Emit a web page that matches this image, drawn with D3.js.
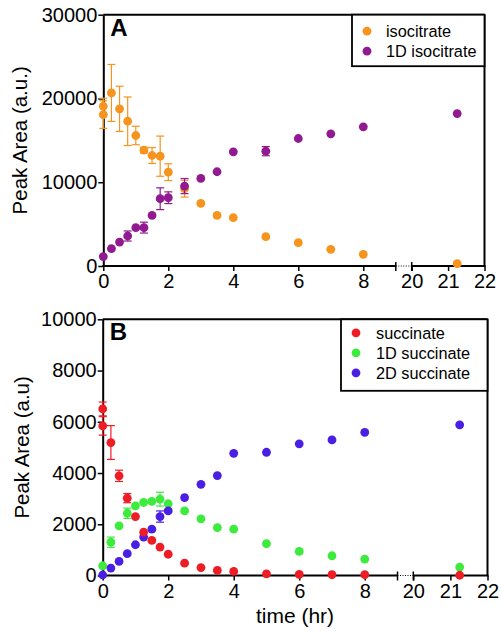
<!DOCTYPE html>
<html>
<head>
<meta charset="utf-8">
<script src="https://cdn.jsdelivr.net/npm/d3@7"></script>
<style>
  html, body { margin: 0; padding: 0; background: #fff; }
  svg text { font-family: "Liberation Sans", Arial, sans-serif; fill: #000; }
</style>
</head>
<body>
<svg id="chart" width="501" height="633"></svg>
<script>
// ---------------- DATA ----------------
// Panel A
const isoTime = [0, 0, 0.25, 0.5, 0.75, 1, 1.25, 1.5, 1.75, 2, 2.5, 3, 3.5, 4, 5, 6, 7, 8, 21.25];
const isoVal  = [19070, 18080, 20660, 18760, 17280, 15580, 13830, 13190, 13110, 11200, 9230, 7470, 6040, 5770, 3500, 2790, 1990, 1390, 280];
const isoErr  = [950, 1650, 3400, 2700, 2900, 1100, 350, 950, 2400, 1000, 1000, 0, 0, 0, 0, 0, 0, 0, 0];

const iso1DTime = [0, 0.25, 0.5, 0.75, 1, 1.25, 1.5, 1.75, 2, 2.5, 3, 3.5, 4, 5, 6, 7, 8, 21.25];
const iso1DVal  = [1120, 2070, 2860, 3580, 4580, 4580, 6040, 8030, 8150, 9540, 10450, 11250, 13630, 13710, 15220, 15780, 16610, 18200];
const iso1DErr  = [0, 0, 0, 600, 0, 650, 0, 1300, 700, 900, 0, 0, 0, 550, 0, 0, 0, 0];

// Panel B
const sucTime = [0, 0, 0.25, 0.5, 0.75, 1, 1.25, 1.5, 1.75, 2, 2.5, 3, 3.5, 4, 5, 6, 7, 8, 21.25];
const sucVal  = [6500, 5840, 5190, 3890, 3020, 2300, 1690, 1370, 1110, 830, 480, 310, 200, 160, 60, 40, 30, 30, 10];
const sucErr  = [270, 360, 660, 220, 180, 0, 0, 0, 0, 0, 0, 0, 0, 0, 0, 0, 0, 0, 0];

const suc1DTime = [0, 0.25, 0.5, 0.75, 1, 1.25, 1.5, 1.75, 2, 2.5, 3, 3.5, 4, 5, 6, 7, 8, 21.25];
const suc1DVal  = [380, 1300, 1940, 2430, 2720, 2850, 2890, 2980, 2800, 2520, 2210, 1870, 1810, 1240, 940, 770, 640, 330];
const suc1DErr  = [0, 200, 0, 200, 0, 0, 0, 270, 0, 0, 0, 0, 0, 0, 0, 0, 0, 0];

const suc2DTime = [0, 0.25, 0.5, 0.75, 1, 1.25, 1.5, 1.75, 2, 2.5, 3, 3.5, 4, 5, 6, 7, 8, 21.25];
const suc2DVal  = [20, 290, 550, 850, 1200, 1500, 1810, 2300, 2520, 3040, 3560, 3900, 4770, 4810, 5140, 5290, 5590, 5880];
const suc2DErr  = [0, 0, 0, 0, 0, 0, 0, 220, 0, 0, 0, 0, 0, 0, 0, 0, 0, 0];

// Axis ticks / labels
const xTicks = [0, 2, 4, 6, 8, 20, 21, 22];
const xBreak = [9, 20];           // axis break: segment 1 ends at 9, segment 2 starts at 20
const yTicksA = [0, 10000, 20000, 30000];
const yTicksB = [0, 2000, 4000, 6000, 8000, 10000];

const namesA = ["isocitrate", "1D isocitrate"];
const namesB = ["succinate", "1D succinate", "2D succinate"];
const colors = {
  "isocitrate": "#F7941D",
  "1D isocitrate": "#921A90",
  "succinate": "#EE1C25",
  "1D succinate": "#3DEB3D",
  "2D succinate": "#4B1EE3"
};

// ---------------- DRAW ----------------
const svg = d3.select("#chart");

function drawPanel(cfg) {
  const g = svg.append("g");
  const x = d3.scaleLinear().domain([0, xBreak[0], xBreak[1], 22]).range(cfg.xRange);
  const y = d3.scaleLinear().domain(cfg.yDomain).range(cfg.yRange);
  const y0 = y(0), yTop = y(cfg.yDomain[1]);

  // Frame (top + right)
  g.append("line").attr("x1", x(0)).attr("x2", x(22)).attr("y1", yTop).attr("y2", yTop)
    .attr("stroke", "#000").attr("stroke-width", 2);
  g.append("line").attr("x1", x(22)).attr("x2", x(22)).attr("y1", yTop).attr("y2", y0)
    .attr("stroke", "#000").attr("stroke-width", 2);

  // Y axis
  const ya = g.append("g").attr("transform", `translate(${x(0)},0)`)
    .call(d3.axisLeft(y).tickValues(cfg.yTicks).tickSize(5).tickSizeOuter(0).tickPadding(1).tickFormat(d3.format("d")));
  ya.select(".domain").attr("stroke-width", 2);
  ya.selectAll(".tick line").attr("stroke-width", 1.5);
  ya.selectAll(".tick text").attr("font-size", 20).style("font-family", "'Liberation Sans', Arial, sans-serif");

  // X axis
  const xa = g.append("g").attr("transform", `translate(0,${y0})`)
    .call(d3.axisBottom(x).tickValues(xTicks).tickSize(5).tickPadding(3).tickFormat(d3.format("d")));
  xa.select(".domain").remove();
  xa.selectAll(".tick line").attr("stroke-width", 1.5);
  xa.selectAll(".tick text").attr("font-size", 20).style("font-family", "'Liberation Sans', Arial, sans-serif");
  // axis line segments with break
  g.append("line").attr("x1", x(0) - 1).attr("x2", x(xBreak[0])).attr("y1", y0).attr("y2", y0)
    .attr("stroke", "#000").attr("stroke-width", 2);
  g.append("line").attr("x1", x(xBreak[0])).attr("x2", x(xBreak[1])).attr("y1", y0).attr("y2", y0)
    .attr("stroke", "#000").attr("stroke-width", 1).attr("stroke-dasharray", "1,1.5");
  g.append("line").attr("x1", x(xBreak[1])).attr("x2", x(22) + 1).attr("y1", y0).attr("y2", y0)
    .attr("stroke", "#000").attr("stroke-width", 2);
  xBreak.forEach(b => {
    g.append("line").attr("x1", x(b)).attr("x2", x(b)).attr("y1", y0 - 4).attr("y2", y0 + 5)
      .attr("stroke", "#000").attr("stroke-width", 1.5);
  });

  // Panel letter
  g.append("text").attr("x", x(0) + 7).attr("y", yTop + 21)
    .attr("font-size", 24).attr("font-weight", "bold").text(cfg.letter);

  // Y title
  g.append("text").attr("transform", `translate(${cfg.yTitleX},${(y0 + yTop) / 2}) rotate(-90)`)
    .attr("text-anchor", "middle").attr("font-size", 20.5).text(cfg.yTitle);

  // Series
  cfg.series.forEach(s => {
    const c = colors[s.name];
    const pts = s.t.map((t, i) => ({ t, v: s.v[i], e: s.e[i] }));
    const eg = g.append("g").attr("stroke", c).attr("stroke-width", 1.2);
    pts.filter(p => p.e > 0).forEach(p => {
      const cx = x(p.t);
      eg.append("line").attr("x1", cx).attr("x2", cx).attr("y1", y(p.v + p.e)).attr("y2", y(p.v - p.e));
      eg.append("line").attr("x1", cx - 4).attr("x2", cx + 4).attr("y1", y(p.v + p.e)).attr("y2", y(p.v + p.e));
      eg.append("line").attr("x1", cx - 4).attr("x2", cx + 4).attr("y1", y(p.v - p.e)).attr("y2", y(p.v - p.e));
    });
    g.append("g").selectAll("circle").data(pts).join("circle")
      .attr("cx", d => x(d.t)).attr("cy", d => y(d.v)).attr("r", 4.4).attr("fill", c);
  });

  // Legend
  const L = cfg.legend;
  g.append("rect").attr("x", L.x).attr("y", L.y).attr("width", L.w).attr("height", L.h)
    .attr("fill", "#fff").attr("stroke", "#000").attr("stroke-width", 1.8);
  cfg.names.forEach((n, i) => {
    const cy = L.y + L.first + i * L.step;
    g.append("circle").attr("cx", L.x + L.dotX).attr("cy", cy).attr("r", 4.4).attr("fill", colors[n]);
    g.append("text").attr("x", L.x + L.textX).attr("y", cy + 6).attr("font-size", 16.3).text(n);
  });
  return { x, y };
}

drawPanel({
  letter: "A",
  xRange: [103.3, 395.8, 411.7, 484.5],
  yDomain: [0, 30000], yRange: [266, 14.7], yTicks: yTicksA,
  yTitle: "Peak Area (a.u.)", yTitleX: 27,
  names: namesA,
  series: [
    { name: "isocitrate", t: isoTime, v: isoVal, e: isoErr },
    { name: "1D isocitrate", t: iso1DTime, v: iso1DVal, e: iso1DErr }
  ],
  legend: { x: 352, y: 14.7, w: 132.5, h: 51.5, first: 16.5, step: 20, dotX: 15, textX: 34 }
});

drawPanel({
  letter: "B",
  xRange: [102.7, 397.5, 413.3, 487.5],
  yDomain: [0, 10000], yRange: [575.5, 319.3], yTicks: yTicksB,
  yTitle: "Peak Area (a.u)", yTitleX: 29,
  names: namesB,
  series: [
    { name: "1D succinate", t: suc1DTime, v: suc1DVal, e: suc1DErr },
    { name: "2D succinate", t: suc2DTime, v: suc2DVal, e: suc2DErr },
    { name: "succinate", t: sucTime, v: sucVal, e: sucErr }
  ],
  legend: { x: 341, y: 319.3, w: 146.5, h: 71.5, first: 13.5, step: 20, dotX: 15, textX: 35 }
});

// X title
svg.append("text").attr("x", 295).attr("y", 623).attr("text-anchor", "middle")
  .attr("font-size", 21).text("time (hr)");
</script>
</body>
</html>
